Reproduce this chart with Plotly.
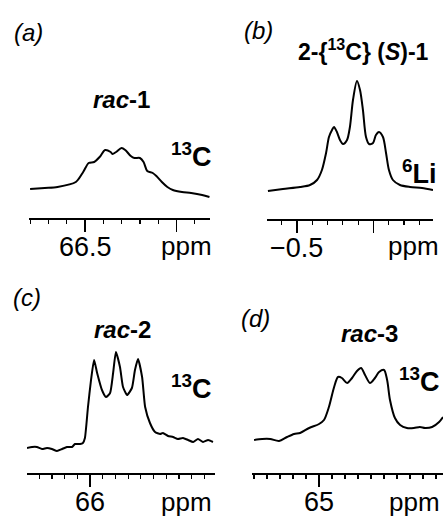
import plotly.graph_objects as go

W, H = 443, 519

# ---------------- data ----------------
# (a) rac-1, 13C
a_ppm = [66.80, 66.72, 66.65, 66.55, 66.51, 66.48, 66.45, 66.42, 66.39, 66.36, 66.35,
         66.33, 66.30, 66.28, 66.25, 66.23, 66.20, 66.18, 66.16, 66.13, 66.11, 66.08,
         66.05, 66.02, 65.97, 65.92, 65.86, 65.82]
a_int = [29, 30, 31, 36, 46, 55, 56, 61, 68, 66, 64, 66, 70, 68, 62, 60, 60, 56, 47, 45,
         42, 36, 31, 28, 26, 25, 23, 21]

# (b) 2-{13C} (S)-1, 6Li
b_ppm = [-0.310, -0.408, -0.520, -0.585, -0.631, -0.663, -0.690, -0.709, -0.729, -0.742,
         -0.761, -0.781, -0.801, -0.827, -0.846, -0.866, -0.892, -0.912, -0.931, -0.951,
         -0.971, -0.997, -1.016, -1.036, -1.062, -1.082, -1.101, -1.127, -1.173, -1.239,
         -1.317, -1.389]
b_int = [28, 30, 32, 34, 39, 49, 66, 82, 89, 92, 87, 79, 75, 79, 92, 119, 138, 129, 109,
         82, 75, 76, 84, 87, 82, 66, 49, 39, 34, 32, 31, 29]

# (c) rac-2, 13C
c_ppm = [66.248, 66.228, 66.209, 66.189, 66.169, 66.150, 66.130, 66.110, 66.091, 66.071,
         66.059, 66.039, 66.028, 66.020, 66.008, 65.996, 65.984, 65.972, 65.953, 65.937,
         65.921, 65.909, 65.898, 65.882, 65.870, 65.854, 65.835, 65.823, 65.811, 65.795,
         65.783, 65.764, 65.744, 65.724, 65.713, 65.693, 65.673, 65.654, 65.634, 65.614,
         65.594, 65.575, 65.555, 65.535, 65.516]
c_int = [25, 26, 26, 24, 25, 24, 22, 24, 26, 26, 29, 29, 30, 35, 66, 93, 113, 100, 83, 76,
         80, 100, 121, 106, 86, 78, 85, 103, 114, 96, 66, 50, 41, 39, 40, 37, 36, 34, 35,
         33, 31, 34, 31, 33, 31]

# (d) rac-3, 13C
d_ppm = [65.250, 65.219, 65.188, 65.154, 65.123, 65.096, 65.073, 65.038, 65.000, 64.981,
         64.962, 64.942, 64.927, 64.912, 64.892, 64.873, 64.854, 64.838, 64.823, 64.804,
         64.785, 64.769, 64.750, 64.738, 64.727, 64.708, 64.688, 64.662, 64.635, 64.612,
         64.592, 64.565, 64.538, 64.523]
d_int = [33, 34, 34, 32, 36, 39, 40, 45, 49, 53, 66, 86, 96, 95, 90, 95, 102, 105, 98, 90,
         95, 101, 103, 93, 73, 55, 48, 45, 45, 46, 45, 46, 51, 56]

# major ticks and their labels
a_ticks, a_labels = [66.5, 66.0], ["66.5", ""]
b_ticks, b_labels = [-0.5, -1.0], ["\u22120.5", ""]
c_ticks, c_labels = [66.0, 65.5], ["66", ""]
d_ticks, d_labels = [65.0], ["65"]

# ---------------- figure ----------------
def px(x):
    return x / W

def py(y):
    return 1 - y / H

FONT = "Liberation Sans, Arial, Helvetica, sans-serif"

fig = go.Figure()

panels = [
    (a_ppm, a_int, [66.806, 65.817], (29, 210), 218, 130, a_ticks, a_labels, 0.1, 0.8),
    (b_ppm, b_int, [-0.304, -1.389], (267, 433), 219, 70, b_ticks, b_labels, 0.1, 0.8),
    (c_ppm, c_int, [66.248, 65.508], (27, 215), 473, 340, c_ticks, c_labels, 0.05, 0.5),
    (d_ppm, d_int, [65.258, 64.523], (252, 443), 473, 355, d_ticks, d_labels, 0.05, 0.8),
]

ann = []
layout_axes = {}
for i, (xs, ys, xr, (x0, x1), ybot, ytop, tv, tt, mdt, sm) in enumerate(panels, start=1):
    xa = "x" if i == 1 else f"x{i}"
    ya = "y" if i == 1 else f"y{i}"
    fig.add_trace(go.Scatter(x=xs, y=ys, mode="lines", xaxis=xa, yaxis=ya,
                             line=dict(color="black", width=2, shape="spline", smoothing=sm),
                             hoverinfo="skip"))
    xkey = "xaxis" if i == 1 else f"xaxis{i}"
    ykey = "yaxis" if i == 1 else f"yaxis{i}"
    layout_axes[xkey] = dict(
        domain=[px(x0), min(px(x1), 1.0)], anchor=ya, range=xr,
        showline=True, linecolor="black", linewidth=1.5, showgrid=False, zeroline=False,
        tickmode="array", tickvals=tv, ticks="outside", ticklen=12,
        tickwidth=1.5, tickcolor="black", showticklabels=False,
        minor=dict(tickmode="linear", tick0=0, dtick=mdt, ticks="outside", ticklen=4,
                   tickwidth=1.2, tickcolor="black", showgrid=False),
        fixedrange=True,
    )
    layout_axes[ykey] = dict(
        domain=[py(ybot), py(ytop)], anchor=xa, range=[0, ybot - ytop],
        visible=False, fixedrange=True,
    )
    # tick labels placed at their data positions on the axis
    for v, lab in zip(tv, tt):
        if lab:
            ann.append(dict(x=v, y=py(ybot + 29), xref=xa, yref="paper", text=lab,
                            showarrow=False, xanchor="center", yanchor="middle",
                            font=dict(family=FONT, size=27, color="black")))

fig.update_layout(**layout_axes)


def text(x, y, s, size, xanchor="center"):
    ann.append(dict(x=px(x), y=py(y), xref="paper", yref="paper", text=s, showarrow=False,
                    xanchor=xanchor, yanchor="middle", borderpad=0,
                    font=dict(family=FONT, size=size, color="black")))

# panel letters
text(13, 32, "<i>(a)</i>", 24, "left")
text(243, 31, "<i>(b)</i>", 24, "left")
text(12, 297, "<i>(c)</i>", 24, "left")
text(240, 318, "<i>(d)</i>", 24, "left")

# compound labels
text(121, 100, "<b><i>rac</i>-1</b>", 24)
text(363, 50, "<b>2-{<sup>13</sup>C} (<i>S</i>)-1</b>", 23)
text(122, 329, "<b><i>rac</i>-2</b>", 24)
text(369, 333, "<b><i>rac</i>-3</b>", 24)

# nucleus labels
text(213, 155, "<b><sup>13</sup>C</b>", 27, "right")
text(438, 172, "<b><sup>6</sup>Li</b>", 27, "right")
text(213, 387, "<b><sup>13</sup>C</b>", 27, "right")
text(441, 380, "<b><sup>13</sup>C</b>", 27, "right")

# ppm labels
text(213, 246, "ppm", 26, "right")
text(440, 246, "ppm", 26, "right")
text(213, 502, "ppm", 26, "right")
text(441, 502, "ppm", 26, "right")

fig.update_layout(
    width=W, height=H, margin=dict(l=0, r=0, t=0, b=0),
    paper_bgcolor="white", plot_bgcolor="white", showlegend=False,
    annotations=ann,
)

fig.write_html("out.html", config={"displayModeBar": False, "staticPlot": True},
               post_script="document.body.style.margin='0';document.body.style.overflow='hidden';")
